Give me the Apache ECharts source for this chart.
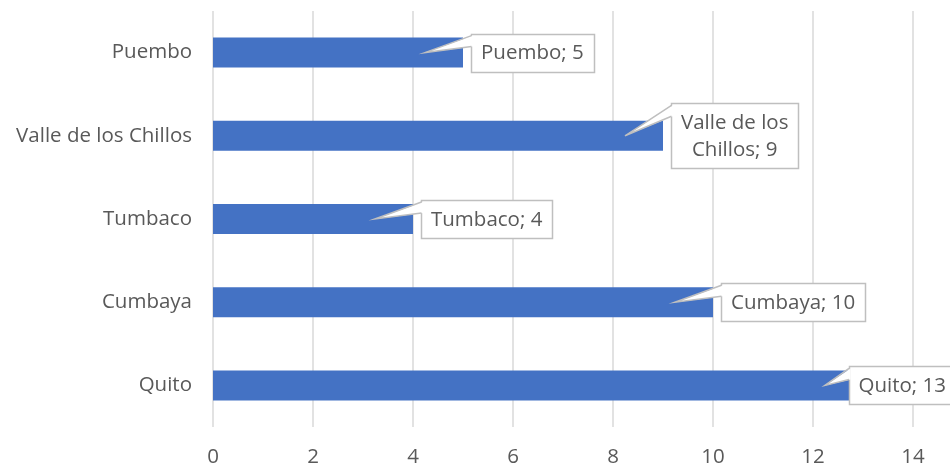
<!DOCTYPE html>
<html>
<head>
<meta charset="utf-8">
<script src="https://cdn.jsdelivr.net/npm/echarts@6/dist/echarts.min.js"></script>
<style>
  html, body { margin: 0; padding: 0; background: #fff; }
  #chart { width: 950px; height: 472px; }
</style>
</head>
<body>
<div id="chart"></div>
<script>
// Places, bottom to top along the category axis
const categories = ['Quito', 'Cumbaya', 'Tumbaco', 'Valle de los Chillos', 'Puembo'];
const counts = [13, 10, 4, 9, 5];
const xTicks = [0, 2, 4, 6, 8, 10, 12, 14];

const FONT = '"Open Sans", "Noto Sans", sans-serif';
const FONT_SIZE = 20.5;
const TEXT_COLOR = '#595959';
const BAR_COLOR = '#4472C4';
const BORDER_COLOR = '#bfbfbf';

const measureCtx = document.createElement('canvas').getContext('2d');
measureCtx.font = FONT_SIZE + 'px ' + FONT;
function textWidth(s) { return measureCtx.measureText(s).width; }

// Break a callout label into lines no wider than maxW
function wrapLabel(s, maxW) {
  const words = s.split(' ');
  const lines = [];
  let cur = '';
  words.forEach(w => {
    const next = cur ? cur + ' ' + w : w;
    if (cur && textWidth(next) > maxW) { lines.push(cur); cur = w; }
    else cur = next;
  });
  if (cur) lines.push(cur);
  return lines;
}

const calloutData = counts.map((v, i) => [v, i]);

function renderCallout(params, api) {
  const i = params.dataIndex;
  const value = api.value(0);
  const end = api.coord([value, api.value(1)]);
  const label = categories[i] + '; ' + counts[i];
  const lines = wrapLabel(label, 140);
  const lineH = 27;
  const padX = 10, padY = 5.5;
  const w = Math.max.apply(null, lines.map(textWidth)) + padX * 2;
  const h = lines.length * lineH + padY * 2;
  let left = end[0] + 8;
  const maxRight = api.getWidth() + 6;
  if (left + w > maxRight) left = maxRight - w;
  const top = end[1] - h / 2;
  const tip = [end[0] - 38, end[1]];
  const b1 = [left, top + 2];
  const b2 = [left, top + 13];
  return {
    type: 'group',
    children: [
      {
        type: 'rect',
        shape: { x: Math.round(left) + 0.5, y: Math.round(top) + 0.5, width: Math.round(w), height: Math.round(h) },
        style: { fill: '#fff', stroke: BORDER_COLOR, lineWidth: 1.5 }
      },
      {
        type: 'polygon',
        shape: { points: [tip, [b1[0] + 2, b1[1]], [b2[0] + 2, b2[1]]] },
        style: { fill: '#fff', stroke: null }
      },
      {
        type: 'polyline',
        shape: { points: [[b1[0] + 0.5, b1[1]], tip, [b2[0] + 0.5, b2[1]]] },
        style: { fill: null, stroke: BORDER_COLOR, lineWidth: 1.5 }
      },
      {
        type: 'text',
        style: {
          x: left + w / 2,
          y: top + h / 2 + 1,
          text: lines.join('\n'),
          align: 'center',
          verticalAlign: 'middle',
          lineHeight: lineH,
          fill: TEXT_COLOR,
          font: FONT_SIZE + 'px ' + FONT
        }
      }
    ]
  };
}

const chart = echarts.init(document.getElementById('chart'), null, { renderer: 'canvas' });
chart.setOption({
  animation: false,
  backgroundColor: '#fff',
  grid: { left: 213, right: 37, top: 11, bottom: 45, containLabel: false },
  xAxis: {
    type: 'value',
    min: xTicks[0],
    max: xTicks[xTicks.length - 1],
    interval: 2,
    axisLine: { show: false },
    axisTick: { show: false },
    splitLine: { show: true, lineStyle: { color: '#d9d9d9', width: 1.5 } },
    axisLabel: { color: TEXT_COLOR, fontFamily: FONT, fontSize: FONT_SIZE, margin: 20 }
  },
  yAxis: {
    type: 'category',
    data: categories,
    axisLine: { show: false },
    axisTick: { show: false },
    axisLabel: { color: TEXT_COLOR, fontFamily: FONT, fontSize: FONT_SIZE, margin: 21 }
  },
  series: [
    {
      type: 'bar',
      data: counts,
      barWidth: 30,
      itemStyle: { color: BAR_COLOR },
      z: 2
    },
    {
      type: 'custom',
      data: calloutData,
      encode: { x: 0, y: 1 },
      renderItem: renderCallout,
      clip: false,
      z: 5,
      silent: true
    }
  ]
});
</script>
</body>
</html>
